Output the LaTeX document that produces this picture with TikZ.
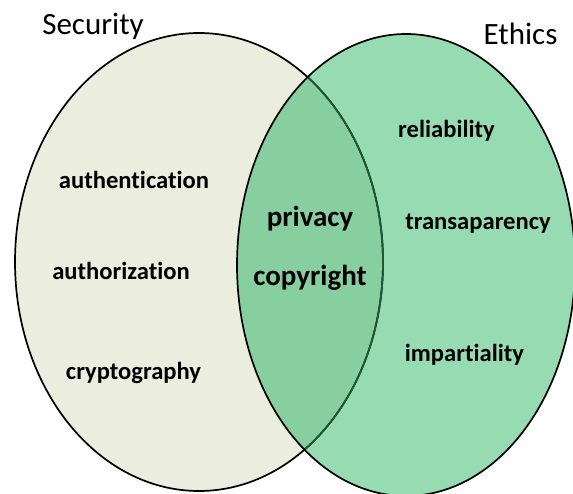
\documentclass[tikz,border=0pt]{standalone}
\usepackage{fontspec}
\setmainfont{Carlito}[Ligatures=NoCommon]
\definecolor{secfill}{HTML}{EBEEDF}
\definecolor{ethfill}{HTML}{96DBB2}
\definecolor{bothfill}{HTML}{87CF9F}
\definecolor{innerline}{HTML}{1C5A30}
\tikzset{
  setname/.style={anchor=base, inner sep=0pt, font=\fontsize{31}{36}\selectfont},
  item/.style={anchor=base, inner sep=0pt, font=\bfseries\fontsize{24.6}{30}\selectfont},
  shared/.style={anchor=base, inner sep=0pt, font=\bfseries\fontsize{29}{34}\selectfont},
  rim/.style={line width=1.7pt}
}
\newcommand{\secset}{(199,262) ellipse [x radius=184pt, y radius=229pt]}
\newcommand{\ethset}{(406,265) ellipse [x radius=169pt, y radius=231pt]}
\begin{document}
\begin{tikzpicture}[x=1pt,y=-1pt]
\useasboundingbox (0,0) rectangle (573,494);
\begin{scope}
  \clip (0,0) rectangle (573,494);
  % the two sets
  \fill[secfill] \secset;
  \fill[ethfill] \ethset;
  \begin{scope}
    \clip \secset;
    \fill[bothfill] \ethset;
  \end{scope}
  % outlines
  \draw[rim, black] \secset;
  \begin{scope}
    \clip \ethset;
    \draw[rim, innerline] \secset;
  \end{scope}
  \draw[rim, black] \ethset;
\end{scope}
% set titles
\node[setname] (security) at (93,35) {Security};
\node[setname] (ethics) at (520.5,45) {Ethics};
% security only
\node[item] (authn) at (134,189) {authentication};
\node[item] (authz) at (121,280) {authorization};
\node[item] (crypto) at (133.5,379) {cryptography};
% both
\node[shared] (privacy) at (310,227) {privacy};
\node[shared] (copyright) at (310,286) {copyright};
% ethics only
\node[item] (reliab) at (446.5,138) {reliability};
\node[item] (transp) at (478,230) {transaparency};
\node[item] (impart) at (464.5,361) {impartiality};
\end{tikzpicture}
\end{document}
